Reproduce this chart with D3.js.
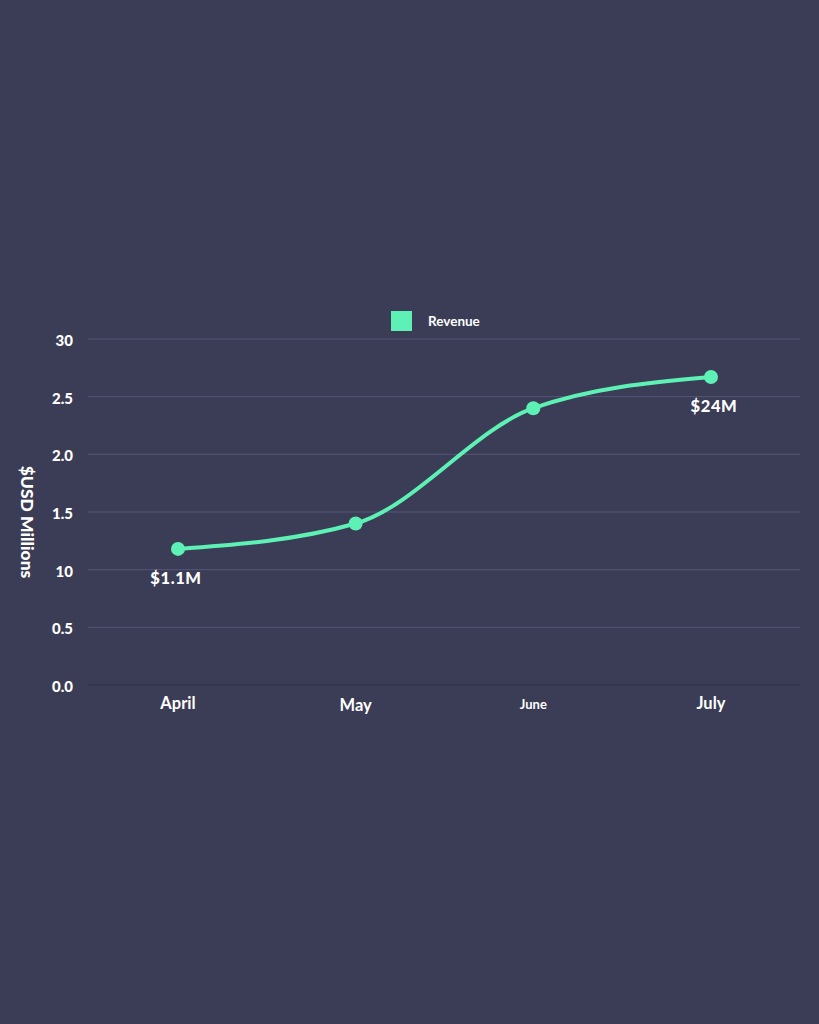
<!DOCTYPE html>
<html><head><meta charset="utf-8">
<script src="https://cdn.jsdelivr.net/npm/d3@7"></script>
<style>html,body{margin:0;padding:0;background:#3b3c55;}svg{display:block;}</style>
</head><body>
<svg id="c" width="819" height="1024"></svg>
<script>
const months = ["April", "May", "June", "July"];
const revenue = [1.18, 1.40, 2.40, 2.67];
const yTicks = [0, 0.5, 1.0, 1.5, 2.0, 2.5, 3.0];
const yTickLabels = ["0.0", "0.5", "10", "1.5", "2.0", "2.5", "30"];
const pointLabels = [{i: 0, text: "$1.1M"}, {i: 3, text: "$24M"}];
const seriesName = "Revenue";

const svg = d3.select("#c");
const font = "Lato, 'Open Sans', sans-serif";
const green = "#5ef1b5";
svg.append("rect").attr("width", 819).attr("height", 1024).attr("fill", "#3b3c55");

const x = d3.scalePoint().domain(months).range([178, 711]);
const y = d3.scaleLinear().domain([0, 3]).range([685, 339]);

// grid
const grid = svg.append("g");
yTicks.forEach((t, k) => {
  grid.append("line").attr("x1", 88).attr("x2", 800)
    .attr("y1", y(t)).attr("y2", y(t))
    .attr("stroke", t === 0 ? "#30314a" : "#55567a").attr("stroke-width", 1);
  svg.append("text").attr("x", 73).attr("y", y(t) + 7)
    .attr("text-anchor", "end").attr("fill", "#ffffff")
    .attr("font-family", font).attr("font-weight", 900).attr("font-size", 15)
    .text(yTickLabels[k]);
});

// x labels
months.forEach((m, i) => {
  svg.append("text").attr("x", x(m)).attr("y", i === 1 ? 711 : 709)
    .attr("text-anchor", "middle").attr("fill", "#ffffff")
    .attr("font-family", font).attr("font-weight", 700)
    .attr("font-size", m === "June" ? 13 : 16.5)
    .text(m);
});

// y title
svg.append("text").attr("transform", "translate(21,522) rotate(90)")
  .attr("text-anchor", "middle").attr("fill", "#ffffff")
  .attr("font-family", font).attr("font-weight", 900).attr("font-size", 17.5)
  .text("$USD Millions");

// legend
svg.append("rect").attr("x", 391).attr("y", 311).attr("width", 21).attr("height", 20).attr("fill", green);
svg.append("text").attr("x", 428).attr("y", 326).attr("fill", "#ffffff")
  .attr("font-family", font).attr("font-weight", 700).attr("font-size", 13.5).text(seriesName);

// line
const data = months.map((m, i) => ({m, v: revenue[i]}));
const line = d3.line().x(d => x(d.m)).y(d => y(d.v)).curve(d3.curveMonotoneX);
svg.append("path").datum(data).attr("d", line).attr("fill", "none")
  .attr("stroke", green).attr("stroke-width", 4).attr("stroke-linecap", "round");
svg.selectAll("circle.pt").data(data).enter().append("circle")
  .attr("cx", d => x(d.m)).attr("cy", d => y(d.v)).attr("r", 7).attr("fill", green);

// point labels
pointLabels.forEach(p => {
  svg.append("text").attr("x", x(months[p.i]) + (p.i === 0 ? -2 : 3)).attr("y", y(revenue[p.i]) + 35)
    .attr("text-anchor", "middle").attr("fill", "#ffffff")
    .attr("font-family", font).attr("font-weight", 900).attr("font-size", 16.5)
    .attr("letter-spacing", 0.6)
    .text(p.text);
});
</script>
</body></html>
